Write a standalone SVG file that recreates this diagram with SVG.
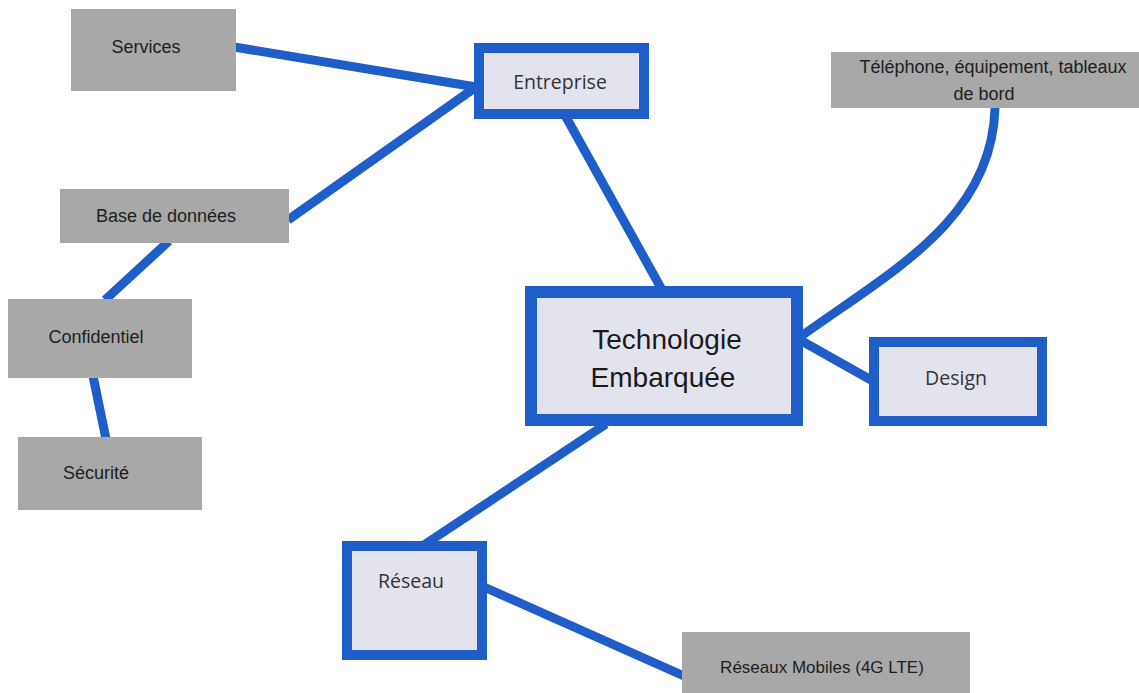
<svg xmlns="http://www.w3.org/2000/svg" width="1139" height="693" viewBox="0 0 1139 693">
<style>
.bg{fill:#ffffff}
.link{fill:none;stroke:#1f5dc8;stroke-width:9;stroke-linecap:butt}
.gray{fill:#a8a8a8}
.blue{fill:#e3e3ee;stroke:#1f5dc8}
.gt{font-family:"Liberation Sans",Arial,sans-serif;font-size:18px;fill:#1e1e1e;text-anchor:middle}
.bt{font-family:"Open Sans","Liberation Sans",sans-serif;font-size:19.5px;fill:#333333;text-anchor:middle}
.main{font-family:"Liberation Sans",Arial,sans-serif;font-size:28px;fill:#1a1a1a;text-anchor:middle}
</style>
<rect class="bg" x="0" y="0" width="1139" height="693"/>
<g id="connectors">
<line class="link" x1="234" y1="47" x2="476" y2="87"/>
<line class="link" x1="288" y1="220" x2="476" y2="87"/>
<line class="link" x1="566" y1="117" x2="661" y2="288"/>
<line class="link" x1="169" y1="241" x2="105" y2="300"/>
<line class="link" x1="93" y1="376" x2="106" y2="439"/>
<path class="link" d="M 995 108 C 992 220, 890 272, 800 337"/>
<line class="link" x1="800" y1="340" x2="871" y2="380"/>
<line class="link" x1="606" y1="424" x2="424" y2="545"/>
<line class="link" x1="484" y1="587" x2="684" y2="676"/>
</g>
<g id="node-services">
<rect class="gray" x="71" y="9" width="165" height="82"/>
<text class="gt" x="146" y="53">Services</text>
</g>
<g id="node-base">
<rect class="gray" x="60" y="189" width="229" height="54"/>
<text class="gt" x="166" y="222">Base de données</text>
</g>
<g id="node-confidentiel">
<rect class="gray" x="8" y="299" width="184" height="79"/>
<text class="gt" x="96" y="343">Confidentiel</text>
</g>
<g id="node-securite">
<rect class="gray" x="18" y="437" width="184" height="73"/>
<text class="gt" x="96" y="479">Sécurité</text>
</g>
<g id="node-telephone">
<rect class="gray" x="831" y="52" width="308" height="56"/>
<text class="gt" x="993" y="73">Téléphone, équipement, tableaux</text>
<text class="gt" x="984" y="100">de bord</text>
</g>
<g id="node-mobiles">
<rect class="gray" x="682" y="632" width="288" height="61"/>
<text class="gt" x="822" y="673" style="font-size:17px">Réseaux Mobiles (4G LTE)</text>
</g>
<g id="node-entreprise">
<rect class="blue" x="479" y="48" width="165" height="66" stroke-width="10"/>
<text class="bt" x="560" y="89">Entreprise</text>
</g>
<g id="node-tech">
<rect class="blue" x="531" y="292" width="266" height="128" stroke-width="12"/>
<text class="main" x="667" y="349">Technologie</text>
<text class="main" x="663" y="387">Embarquée</text>
</g>
<g id="node-design">
<rect class="blue" x="874" y="342" width="168" height="79" stroke-width="10"/>
<text class="bt" x="956" y="385">Design</text>
</g>
<g id="node-reseau">
<rect class="blue" x="347" y="546" width="135" height="109" stroke-width="10"/>
<text class="bt" x="411" y="588">Réseau</text>
</g>
</svg>
